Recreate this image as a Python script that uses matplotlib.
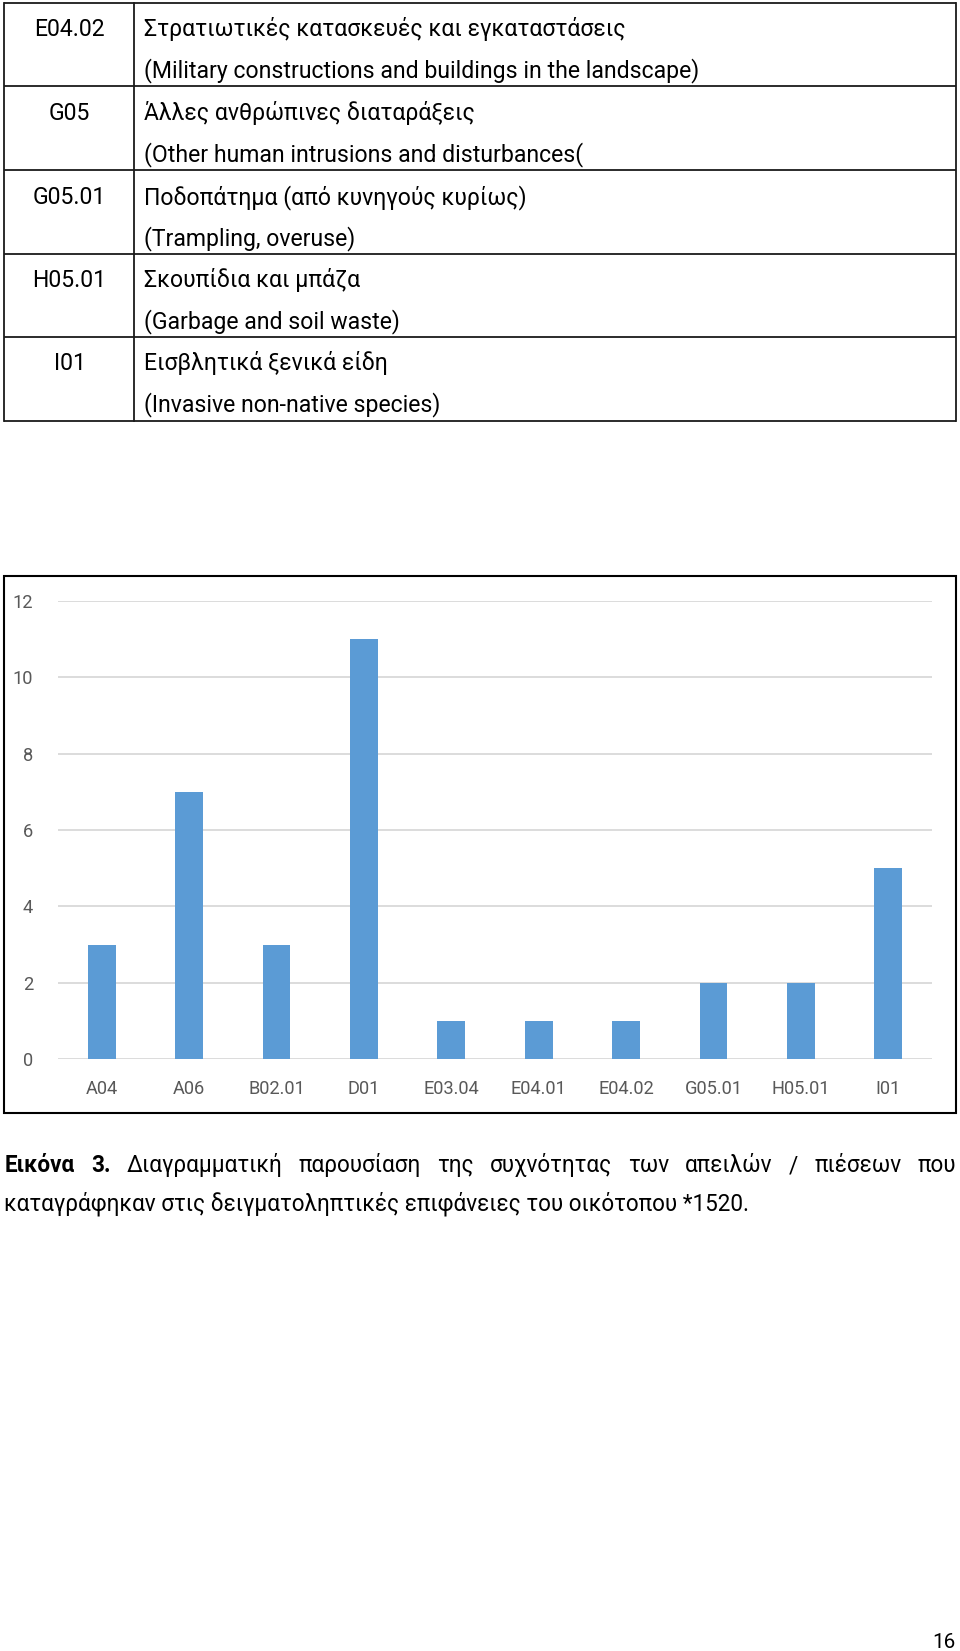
import matplotlib
matplotlib.use('Agg')
import matplotlib.pyplot as plt
from matplotlib.patches import Rectangle

W, H = 960, 1651
FONT = ['Roboto', 'DejaVu Sans']
plt.rcParams['font.family'] = FONT

# ---- data ----
codes = ["E04.02", "G05", "G05.01", "H05.01", "I01"]
greek = ["Στρατιωτικές κατασκευές και εγκαταστάσεις",
         "Άλλες ανθρώπινες διαταράξεις",
         "Ποδοπάτημα (από κυνηγούς κυρίως)",
         "Σκουπίδια και μπάζα",
         "Εισβλητικά ξενικά είδη"]
english = ["(Military constructions and buildings in the landscape)",
           "(Other human intrusions and disturbances(",
           "(Trampling, overuse)",
           "(Garbage and soil waste)",
           "(Invasive non-native species)"]
categories = ["A04", "A06", "B02.01", "D01", "E03.04", "E04.01", "E04.02",
              "G05.01", "H05.01", "I01"]
counts = [3, 7, 3, 11, 1, 1, 1, 2, 2, 5]
yticks = [0, 2, 4, 6, 8, 10, 12]
caption_bold = ["Εικόνα", "3."]
caption_line1 = ["Διαγραμματική", "παρουσίαση", "της", "συχνότητας", "των",
                 "απειλών", "/", "πιέσεων", "που"]
caption_line2 = "καταγράφηκαν στις δειγματοληπτικές επιφάνειες του οικότοπου *1520."
page_number = "16"

fig = plt.figure(figsize=(9.6, 16.51), dpi=100)
renderer = fig.canvas.get_renderer()


def text_width(s, size, weight='normal'):
    t = fig.text(0, 0, s, fontsize=size, family=FONT, weight=weight)
    w = t.get_window_extent(renderer).width
    t.remove()
    return w


def fit_size(s, target_px, weight='normal'):
    return 10.0 * target_px / text_width(s, 10, weight)


page = fig.add_axes([0, 0, 1, 1])
page.set_xlim(0, W)
page.set_ylim(H, 0)
page.axis('off')

# ---- table ----
row_lines = [2.7, 86.3, 170.5, 253.7, 336.8, 421.0]
tx0, tdiv, tx1 = 4.2, 133.7, 955.8
lc = '#1a1a1a'
lw = 1.3
for y in row_lines:
    page.plot([tx0, tx1], [y, y], color=lc, lw=lw, solid_capstyle='butt')
for x in (tx0, tdiv, tx1):
    page.plot([x, x], [row_lines[0], row_lines[-1]], color=lc, lw=lw)

tsize = fit_size(english[0], 555)
for i in range(len(codes)):
    top = row_lines[i]
    page.text(69.5, top + 33.5, codes[i], ha='center', va='baseline',
              fontsize=tsize, color='black')
    page.text(144.2, top + 33.5, greek[i], ha='left', va='baseline',
              fontsize=tsize, color='black')
    page.text(144.2, top + 75, english[i], ha='left', va='baseline',
              fontsize=tsize, color='black')

# ---- chart border ----
page.add_patch(Rectangle((4.2, 575.8), 951.6, 536.8, fill=False,
                         edgecolor='black', lw=1.5))

# ---- bar chart ----
px_l, px_r, px_top, px_bot = 58, 932, 601, 1059
ax = fig.add_axes([px_l / W, (H - px_bot) / H, (px_r - px_l) / W,
                   (px_bot - px_top) / H])
ax.set_facecolor('none')
x = list(range(len(categories)))
ax.bar(x, counts, width=0.32, color='#5B9BD5', zorder=3)
ax.set_xlim(-0.5, len(categories) - 0.5)
ax.set_ylim(0, 12)
ax.set_yticks(yticks)
ax.yaxis.grid(True, color='#D9D9D9', lw=1.3, zorder=0)
ax.set_axisbelow(True)
for s in ax.spines.values():
    s.set_visible(False)
ax.tick_params(length=0)
ax.set_xticks(x)
lsize = fit_size("B02.01", 57)
ax.set_xticklabels(categories, fontsize=lsize, color='#595959')
ax.set_yticklabels([str(v) for v in yticks], fontsize=lsize, color='#595959')
ax.tick_params(axis='x', pad=15)
ax.tick_params(axis='y', pad=18)

# ---- caption ----
csize = fit_size(caption_line2, 743)
words = caption_bold + caption_line1
weights = ['bold'] * len(caption_bold) + ['normal'] * len(caption_line1)
widths = [text_width(w_, csize, wt) for w_, wt in zip(words, weights)]
left, right = 4.5, 956
gap = (right - left - sum(widths)) / (len(words) - 1)
xc = left
for w_, wt, wd in zip(words, weights, widths):
    page.text(xc, 1172, w_, ha='left', va='baseline', fontsize=csize,
              weight=wt, color='black')
    xc += wd + gap
page.text(4.5, 1211, caption_line2, ha='left', va='baseline', fontsize=csize,
          color='black')

# ---- page number ----
page.text(955, 1648, page_number, ha='right', va='baseline',
          fontsize=fit_size(page_number, 23), color='black')

fig.savefig('out.png', dpi=100)
